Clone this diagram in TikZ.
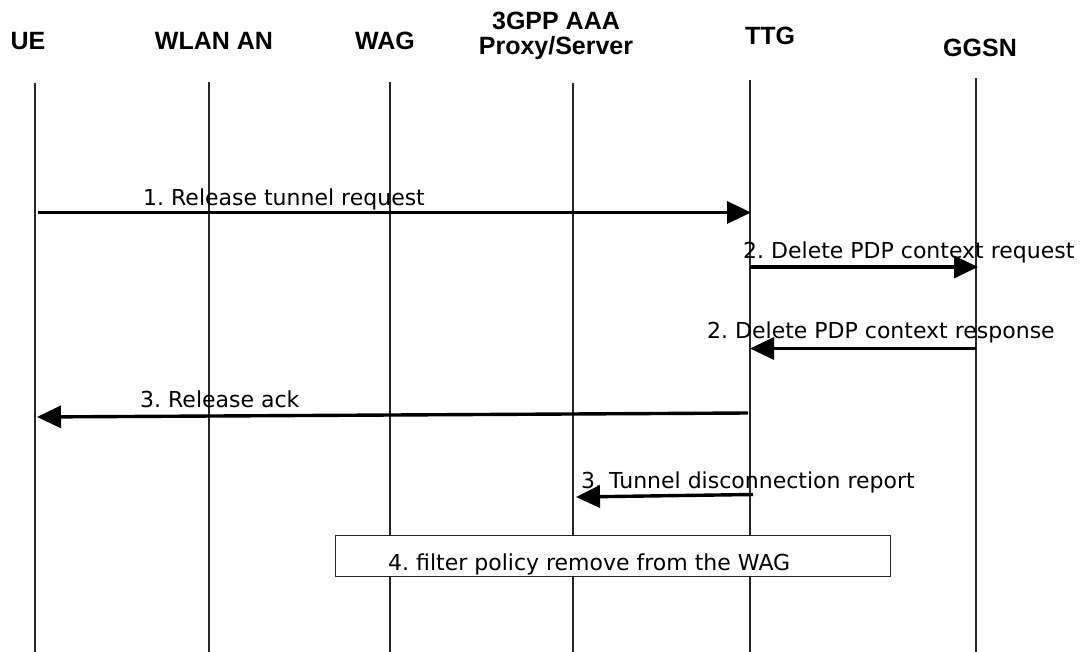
\documentclass[tikz,border=0pt]{standalone}
\usepackage{fontspec}
\setmainfont{DejaVu Sans}
\newfontfamily\headfont{Liberation Sans}
\usetikzlibrary{arrows.meta}
\frenchspacing
\begin{document}
\begin{tikzpicture}[x=1pt,y=-1pt,
  head/.style={font=\headfont\bfseries\fontsize{25}{25}\selectfont, inner sep=0pt, align=center, anchor=base},
  msg/.style={font=\frenchspacing\fontsize{22}{24}\selectfont, inner sep=0pt, anchor=base west},
  life/.style={line width=1.5pt, draw=black!85},
  sig/.style={line width=3.4pt, -{Triangle[length=24pt,width=22pt]}},
  actbox/.style={draw=black!85, line width=1.2pt, fill=white}
  ]
\useasboundingbox (0,0) rectangle (1082,652);
% headers
\node[head] (hUE)   at (28,50)  {UE};
\node[head] (hWLAN) at (214,50) {WLAN AN};
\node[head] (hWAG)  at (385,50) {WAG};
\node[head, anchor=center] (hAAA) at (556,36) {3GPP AAA\\Proxy/Server};
\node[head] (hTTG)  at (770,45) {TTG};
\node[head] (hGGSN) at (980,57) {GGSN};
% lifeline ends
\coordinate (ueT) at (35,83);   \coordinate (ueB) at (35,652);
\coordinate (wlT) at (209,82);  \coordinate (wlB) at (209,652);
\coordinate (wgT) at (390,82);  \coordinate (wgB) at (390,652);
\coordinate (aaT) at (573,83);  \coordinate (aaB) at (573,652);
\coordinate (ttT) at (750,80);  \coordinate (ttB) at (750,652);
\coordinate (ggT) at (976,78);  \coordinate (ggB) at (976,652);
\draw[life] (ueT) -- (ueB);
\draw[life] (wlT) -- (wlB);
\draw[life] (wgT) -- (wgB);
\draw[life] (aaT) -- (aaB);
\draw[life] (ttT) -- (ttB);
\draw[life] (ggT) -- (ggB);
% messages
\coordinate (m1a) at (38,212.5);  \coordinate (m1b) at (751,212.5);
\draw[sig] (m1a) -- (m1b);
\node[msg] (l1) at (143,206) {1. Release tunnel request};

\coordinate (m2a) at (750,267);  \coordinate (m2b) at (978,267);
\draw[sig] (m2a) -- (m2b);
\node[msg] (l2) at (743,259) {2. Delete PDP context request};

\coordinate (m3a) at (976,348.5);  \coordinate (m3b) at (750,348.5);
\draw[sig] (m3a) -- (m3b);
\node[msg] (l3) at (707,338) {2. Delete PDP context response};

\coordinate (m4a) at (748,413);  \coordinate (m4b) at (37,417);
\draw[sig] (m4a) -- (m4b);
\node[msg] (l4) at (140,407) {3. Release ack};

\coordinate (m5a) at (753,494.5);  \coordinate (m5b) at (576,497);
\draw[sig] (m5a) -- (m5b);
\node[msg] (l5) at (581,488) {3. Tunnel disconnection report};

% box
\node[actbox, minimum width=555pt, minimum height=41pt, inner sep=0pt, anchor=north west] (box) at (335,535) {};
\node[msg] (l6) at (388,570) {4. filter policy remove from the WAG};
\end{tikzpicture}
\end{document}
